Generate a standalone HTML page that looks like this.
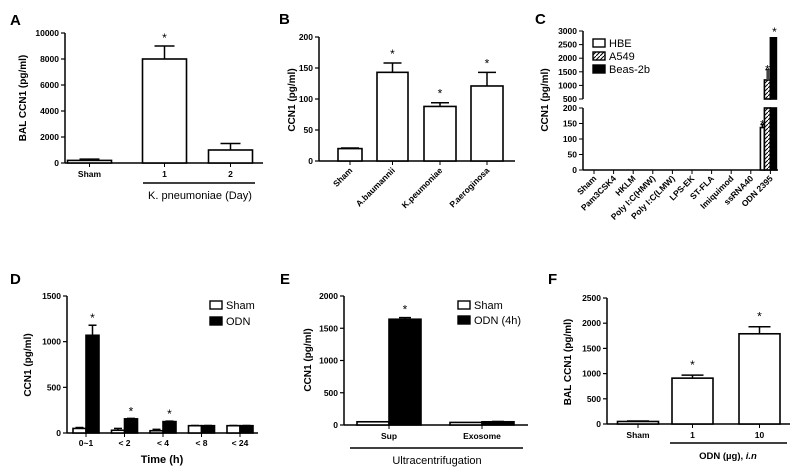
<!DOCTYPE html>
<html><head><meta charset="utf-8"><style>
body{margin:0;background:#fff}
svg{display:block;font-family:"Liberation Sans",Arial,sans-serif}
.t{font-size:8.5px;font-weight:bold}
.yt{font-size:10px;font-weight:bold}
.pl{font-size:15px;font-weight:bold}
.lg{font-size:11px}
</style></head><body>
<svg id="fig" width="800" height="474" viewBox="0 0 800 474"></svg>
<script>
// Panel A
const aCats=["Sham","1","2"];
const aVals=[200,8000,1000];
const aErr=[300,9000,1500];
const aTicks=[0,2000,4000,6000,8000,10000];
// Panel B
const bCats=["Sham","A.baumannii","K.peumoniae","P.aeroginosa"];
const bVals=[20,143,88,121];
const bErr=[21,158,94,143];
const bTicks=[0,50,100,150,200];
// Panel C
const cCats=["Sham","Pam3CSK4","HKLM","Poly I:C(HMW)","Poly I:C(LMW)","LPS-EK","ST-FLA","Imiquimod","ssRNA40","ODN 2395"];
const cHBE=[0,0,0,0,0,0,0,0,0,137];
const cA549=[0,0,0,0,0,0,0,0,0,1200];
const cBeas=[0,0,0,0,0,0,0,0,0,2750];
const cHBEerr=[0,0,0,0,0,0,0,0,0,147];
const cA549err=[0,0,0,0,0,0,0,0,0,1580];
const cTicksLow=[0,50,100,150,200];
const cTicksHigh=[500,1000,1500,2000,2500,3000];
// Panel D
const dCats=["0~1","< 2","< 4","< 8","< 24"];
const dSham=[50,30,25,80,80];
const dODN=[1070,155,125,80,80];
const dODNerr=[1180,160,130,82,82];
const dShamErr=[60,50,40,82,82];
const dTicks=[0,500,1000,1500];
// Panel E
const eCats=["Sup","Exosome"];
const eSham=[50,40];
const eODN=[1640,50];
const eODNerr=[1665,55];
const eTicks=[0,500,1000,1500,2000];
// Panel F
const fCats=["Sham","1","10"];
const fVals=[50,910,1790];
const fErr=[60,970,1930];
const fTicks=[0,500,1000,1500,2000,2500];

const svg=document.getElementById('fig');
const NS="http://www.w3.org/2000/svg";
function el(tag,attrs,parent,text){const e=document.createElementNS(NS,tag);for(const k in attrs)e.setAttribute(k,attrs[k]);if(text!==undefined)e.textContent=text;(parent||svg).appendChild(e);return e;}
function lin(v0,v1,p0,p1){return v=>p0+(v-v0)*(p1-p0)/(v1-v0);}
function grp(name){const g=el('g',{},svg);return g;}
function axisY(g,x,ticks,sy,yTop,yBot){el('line',{x1:x,y1:yTop,x2:x,y2:yBot,stroke:'#000','stroke-width':1.5},g);
 ticks.forEach(t=>{const y=sy(t);el('line',{x1:x-4,y1:y,x2:x,y2:y,stroke:'#000','stroke-width':1.2},g);
 const tx=el('text',{x:x-6,y:y+3,'text-anchor':'end',class:'t'},g,String(t));});}
function bar(g,x,w,y0,y1,fill,name){const r=el('rect',{x:x,y:Math.min(y0,y1),width:w,height:Math.abs(y0-y1),fill:fill,stroke:'#000','stroke-width':1.6},g);return r;}
function err(g,cx,yv,ye,cap){el('line',{x1:cx,y1:yv,x2:cx,y2:ye,stroke:'#000','stroke-width':1.5},g);el('line',{x1:cx-cap,y1:ye,x2:cx+cap,y2:ye,stroke:'#000','stroke-width':1.5},g);}
function star(g,x,y){const s=el('text',{x:x,y:y,'text-anchor':'middle',style:'font-size:12px'},g,'*');}
function ytitle(g,x,y,t){const e=el('text',{x:x,y:y,'text-anchor':'middle',class:'yt',transform:`rotate(-90 ${x} ${y})`},g,t);}
function plabel(x,y,t){const e=el('text',{x:x,y:y,class:'pl'},svg,t);}
function xlab(g,x,y,t,cls){const e=el('text',{x:x,y:y,'text-anchor':'middle',class:cls||'t'},g,t);}
function legend(g,x,y,fill,t){const r=el('rect',{x:x,y:y-8,width:12,height:8,fill:fill,stroke:'#000','stroke-width':1.4},g);
 const e=el('text',{x:x+16,y:y,class:'lg'},g,t);}

// ---- A
(function(){const g=grp('panel-a-chart');plabel(10,25,'A');
 const sy=lin(0,10000,163,33);axisY(g,65,aTicks,sy,33,163);
 el('line',{x1:65,y1:163,x2:263,y2:163,stroke:'#000','stroke-width':1.5},g);
 const cx=[89.5,164.5,230.5],w=44;
 aCats.forEach((c,i)=>{err(g,cx[i],sy(aVals[i]),sy(aErr[i]),10);bar(g,cx[i]-w/2,w,sy(0),sy(aVals[i]),'#fff','bar-'+c.toLowerCase());
  el('line',{x1:cx[i],y1:163,x2:cx[i],y2:167,stroke:'#000'},g);xlab(g,cx[i],177,c);});
 star(g,164.5,sy(aErr[1])-4);
 el('line',{x1:143,y1:183,x2:255,y2:183,stroke:'#000','stroke-width':1.5},g);
 const t=el('text',{x:200,y:199,'text-anchor':'middle',style:'font-size:11px'},g,'K. pneumoniae (Day)');
 ytitle(g,26,98,'BAL CCN1 (pg/ml)');})();

// ---- B
(function(){const g=grp('panel-b-chart');plabel(279,24,'B');
 const sy=lin(0,200,161,37);axisY(g,319,bTicks,sy,37,161);
 el('line',{x1:319,y1:161,x2:515,y2:161,stroke:'#000','stroke-width':1.5},g);
 const cx=[350,392.5,440,487],ws=[24,31,32,32];
 bCats.forEach((c,i)=>{err(g,cx[i],sy(bVals[i]),sy(bErr[i]),9);bar(g,cx[i]-ws[i]/2,ws[i],sy(0),sy(bVals[i]),'#fff','bar-'+c.toLowerCase());
  el('line',{x1:cx[i],y1:161,x2:cx[i],y2:165,stroke:'#000'},g);
  const e=el('text',{x:cx[i]+3,y:171,'text-anchor':'end',class:'t',transform:`rotate(-45 ${cx[i]+3} 171)`},g,c);
  if(i>0)star(g,cx[i],sy(bErr[i])-5);});
 ytitle(g,295,100,'CCN1 (pg/ml)');})();

// ---- C
(function(){const g=grp('panel-c-chart');plabel(535,24,'C');
 const lo=lin(0,200,170,108),hi=lin(500,3000,99,31);
 const sy=v=>v<=200?lo(v):(v<500?lo(200)-(v-200)/300*9:hi(v));
 el('line',{x1:583,y1:108,x2:583,y2:170,stroke:'#000','stroke-width':1.5},g);
 el('line',{x1:583,y1:31,x2:583,y2:99,stroke:'#000','stroke-width':1.5},g);
 cTicksLow.concat(cTicksHigh).forEach((t,k)=>{const y=k<cTicksLow.length?lo(t):hi(t);el('line',{x1:579,y1:y,x2:583,y2:y,stroke:'#000'},g);
  const e=el('text',{x:577,y:y+3,'text-anchor':'end',class:'t'},g,String(t));});
 el('line',{x1:583,y1:170,x2:778,y2:170,stroke:'#000','stroke-width':1.5},g);
 const step=19.6;
 const d=el('defs',{},svg);const p=el('pattern',{id:'hatch',patternUnits:'userSpaceOnUse',width:4,height:4},d);el('rect',{width:4,height:4,fill:'#fff'},p);el('path',{d:'M0,4 L4,0',stroke:'#000','stroke-width':1},p);
 cCats.forEach((c,i)=>{const cx=594+i*step;el('line',{x1:cx,y1:170,x2:cx,y2:174,stroke:'#000'},g);
  const e=el('text',{x:cx+3,y:179,'text-anchor':'end',class:'t',transform:`rotate(-45 ${cx+3} 179)`},g,c);
  const b=cx-10;
  if(cHBE[i]>0){err(g,b+2,sy(cHBE[i]),sy(cHBEerr[i]),2);bar(g,b,4,sy(0),sy(cHBE[i]),'#fff','bar-hbe');star(g,b+2,sy(cHBEerr[i])+4);}
  if(cA549[i]>0){bar(g,b+4,6,sy(0),lo(200),'url(#hatch)','bar-a549');bar(g,b+4,6,hi(500),sy(cA549[i]),'url(#hatch)','bar-a549');err(g,b+7,sy(cA549[i]),sy(cA549err[i]),2);el('rect',{x:b+6,y:sy(cA549err[i]),width:3,height:sy(cA549[i])-sy(cA549err[i]),fill:'#444'},g);star(g,b+7,sy(cA549err[i])+4);}
  if(cBeas[i]>0){bar(g,b+10,6,sy(0),lo(200),'#000','bar-beas-2b');bar(g,b+10,6,hi(500),sy(cBeas[i]),'#000','bar-beas-2b');star(g,b+14,sy(cBeas[i])-2);}
 });
 legend(g,593,47,'#fff','HBE');legend(g,593,60,'url(#hatch)','A549');legend(g,593,73,'#000','Beas-2b');
 ytitle(g,548,100,'CCN1 (pg/ml)');})();

// ---- D
(function(){const g=grp('panel-d-chart');plabel(10,284,'D');
 const sy=lin(0,1500,433,296);axisY(g,67,dTicks,sy,296,433);
 el('line',{x1:67,y1:433,x2:258,y2:433,stroke:'#000','stroke-width':1.5},g);
 const step=38.5,w=13;
 dCats.forEach((c,i)=>{const cx=86+i*step;
  err(g,cx-w/2,sy(dSham[i]),sy(dShamErr[i]),4);bar(g,cx-w,w,sy(0),sy(dSham[i]),'#fff','bar-sham');
  err(g,cx+w/2,sy(dODN[i]),sy(dODNerr[i]),4);bar(g,cx,w,sy(0),sy(dODN[i]),'#000','bar-odn');
  if(i<3)star(g,cx+w/2,sy(dODNerr[i])-3);
  el('line',{x1:cx,y1:433,x2:cx,y2:437,stroke:'#000'},g);xlab(g,cx,446,c);});
 const t=el('text',{x:162,y:463,'text-anchor':'middle',style:'font-size:11px;font-weight:bold'},g,'Time (h)');
 legend(g,210,309,'#fff','Sham');legend(g,210,325,'#000','ODN');
 ytitle(g,31,365,'CCN1 (pg/ml)');})();

// ---- E
(function(){const g=grp('panel-e-chart');plabel(280,284,'E');
 const sy=lin(0,2000,425,296);axisY(g,344,eTicks,sy,296,425);
 el('line',{x1:344,y1:425,x2:528,y2:425,stroke:'#000','stroke-width':1.5},g);
 const cxs=[389,482],w=32;
 eCats.forEach((c,i)=>{const cx=cxs[i];
  bar(g,cx-w,w,sy(0),sy(eSham[i]),'#fff','bar-sham');
  err(g,cx+w/2,sy(eODN[i]),sy(eODNerr[i]),6);bar(g,cx,w,sy(0),sy(eODN[i]),'#000','bar-odn-4h');
  if(i===0)star(g,cx+w/2,sy(eODNerr[i])-4);
  el('line',{x1:cx,y1:425,x2:cx,y2:429,stroke:'#000'},g);xlab(g,cx,439,c);});
 el('line',{x1:350,y1:448,x2:523,y2:448,stroke:'#000','stroke-width':1.5},g);
 const t=el('text',{x:437,y:464,'text-anchor':'middle',style:'font-size:11px'},g,'Ultracentrifugation');
 legend(g,458,309,'#fff','Sham');legend(g,458,324,'#000','ODN (4h)');
 ytitle(g,311,360,'CCN1 (pg/ml)');})();

// ---- F
(function(){const g=grp('panel-f-chart');plabel(548,284,'F');
 const sy=lin(0,2500,424,298);axisY(g,607,fTicks,sy,298,424);
 el('line',{x1:607,y1:424,x2:790,y2:424,stroke:'#000','stroke-width':1.5},g);
 const cx=[638,692.5,759.5],w=41;
 fCats.forEach((c,i)=>{err(g,cx[i],sy(fVals[i]),sy(fErr[i]),11);bar(g,cx[i]-w/2,w,sy(0),sy(fVals[i]),'#fff','bar-'+c.toLowerCase());
  el('line',{x1:cx[i],y1:424,x2:cx[i],y2:428,stroke:'#000'},g);xlab(g,cx[i],438,c);
  if(i>0)star(g,cx[i],sy(fErr[i])-6);});
 el('line',{x1:670,y1:443,x2:787,y2:443,stroke:'#000','stroke-width':1.5},g);
 const t=el('text',{x:728,y:459,'text-anchor':'middle',style:'font-size:9.5px;font-weight:bold'},g);
 t.innerHTML='ODN (µg), <tspan font-style="italic">i.n</tspan>';
 ytitle(g,571,362,'BAL CCN1 (pg/ml)');})();
</script>
</body></html>
